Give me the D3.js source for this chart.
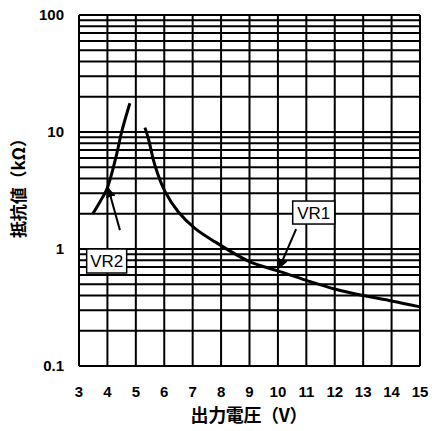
<!DOCTYPE html>
<html><head><meta charset="utf-8">
<script src="https://cdn.jsdelivr.net/npm/d3@7/dist/d3.min.js"></script>
<style>body{margin:0;background:#fff}svg{display:block}</style>
</head><body><svg id="c" width="432" height="431"></svg>
<script>
const xTicks = [3,4,5,6,7,8,9,10,11,12,13,14,15];
const yTickLabels = [["0.1",0.1],["1",1],["10",10],["100",100]];
const vr2V = [3.48,3.74,3.97,4.30,4.50,4.79];
const vr2R = [1.99,2.54,3.2,6.1,10,17.6];
const vr1V = [5.32,5.44,5.67,6.03,6.49,7.08,7.79,9.0,10.0,11.0,12.0,13.0,14.0,15.0];
const vr1R = [10.9,8.8,5.2,3.09,2.08,1.5,1.15,0.78,0.65,0.54,0.455,0.40,0.36,0.32];
const xTitle = "出力電圧（V）";
const yTitle = "抵抗値（kΩ）";

const svg = d3.select("#c");
const x = d3.scaleLinear().domain([3,15]).range([79,420]);
const y = d3.scaleLog().domain([0.1,100]).range([366,15]);

const grid = [];
[0.1,1,10].forEach(d=>{for(let m=1;m<=9;m++) grid.push(d*m);});
grid.push(100);

const g = svg.append("g");
g.selectAll("line.h").data(grid).join("line")
  .attr("x1",x(3)).attr("x2",x(15)).attr("y1",d=>y(d)).attr("y2",d=>y(d))
  .attr("stroke","#000").attr("stroke-width",2);
g.selectAll("line.v").data(xTicks).join("line")
  .attr("x1",d=>x(d)).attr("x2",d=>x(d)).attr("y1",y(100)).attr("y2",y(0.1))
  .attr("stroke","#000").attr("stroke-width",2);

// tick labels
g.selectAll("text.xt").data(xTicks).join("text")
  .attr("x",d=>x(d)).attr("y",397).attr("text-anchor","middle")
  .style("font-family","Liberation Sans, Arial, sans-serif").style("font-weight","bold").style("font-size","15px")
  .text(d=>d);
g.selectAll("text.yt").data(yTickLabels).join("text")
  .attr("x",64).attr("y",d=>y(d[1])+5).attr("text-anchor","end")
  .style("font-family","Liberation Sans, Arial, sans-serif").style("font-weight","bold").style("font-size","15px")
  .text(d=>d[0]);

// titles
svg.append("text").attr("x",249).attr("y",422).attr("text-anchor","middle")
  .attr("textLength",117).attr("lengthAdjust","spacing")
  .style("font-family","Noto Sans CJK JP, sans-serif").style("font-weight","bold").style("font-size","18px")
  .text(xTitle);
svg.append("text").attr("transform","translate(25,184) rotate(-90)").attr("text-anchor","middle")
  .attr("textLength",108).attr("lengthAdjust","spacing")
  .style("font-family","Noto Sans CJK JP, sans-serif").style("font-weight","bold").style("font-size","17px")
  .text(yTitle);

// curves
const line = d3.line().x(d=>x(d[0])).y(d=>y(d[1])).curve(d3.curveCatmullRom.alpha(0.5));
svg.append("path").datum(vr2V.map((v,i)=>[v,vr2R[i]])).attr("d",line)
  .attr("fill","none").attr("stroke","#000").attr("stroke-width",3);
svg.append("path").datum(vr1V.map((v,i)=>[v,vr1R[i]])).attr("d",line)
  .attr("fill","none").attr("stroke","#000").attr("stroke-width",3);

// arrow marker
svg.append("defs").append("marker").attr("id","ah").attr("viewBox","0 0 10 10")
  .attr("refX",9).attr("refY",5).attr("markerWidth",5).attr("markerHeight",5)
  .attr("markerUnits","strokeWidth").attr("orient","auto")
  .append("path").attr("d","M0,0L10,5L0,10z").attr("fill","#000");

function label(txt, v0, r0, wpx, hpx, ax1v, ax1r, ax2v, ax2r){
  const bx = x(v0), by = y(r0);
  svg.append("rect").attr("x",bx).attr("y",by).attr("width",wpx).attr("height",hpx)
    .attr("fill","#fff").attr("stroke","#000").attr("stroke-width",1.5);
  svg.append("text").attr("x",bx+wpx/2).attr("y",by+hpx/2+6).attr("text-anchor","middle")
    .style("font-family","Liberation Sans, Arial, sans-serif").style("font-size","17px")
    .text(txt);
  svg.append("line").attr("x1",x(ax1v)).attr("y1",y(ax1r)).attr("x2",x(ax2v)).attr("y2",y(ax2r))
    .attr("stroke","#000").attr("stroke-width",2).attr("marker-end","url(#ah)");
}
label("VR1", 10.52, 2.57, 42, 23, 10.64, 1.48, 10.05, 0.69);
label("VR2", 3.27, 1.0, 40, 24, 4.44, 1.45, 4.03, 3.3);
</script></body></html>
